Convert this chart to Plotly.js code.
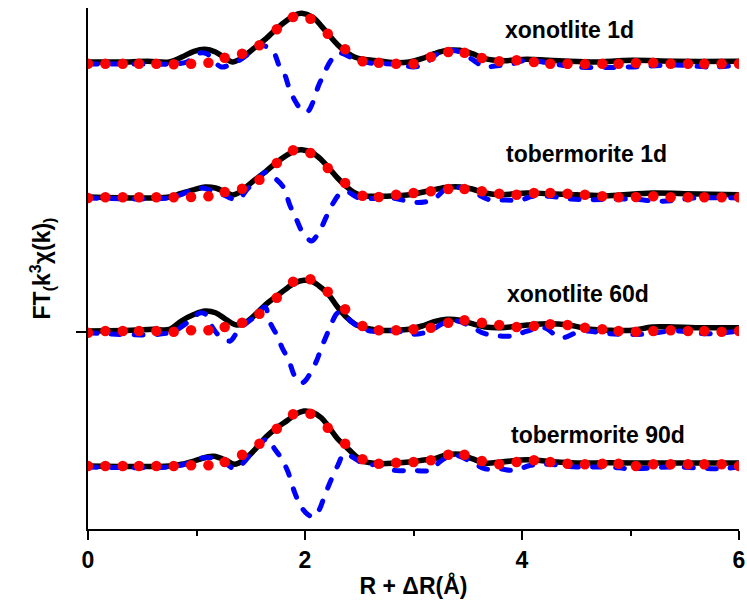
<!DOCTYPE html>
<html>
<head>
<meta charset="utf-8">
<script src="https://cdn.plot.ly/plotly-3.0.1.min.js"></script>
<style>
html,body{margin:0;padding:0;background:#fff;}
#chart{width:747px;height:606px;}
.scatterlayer .js-line{stroke-linecap:round !important;stroke-linejoin:round !important;}
</style>
</head>
<body>
<div id="chart"></div>
<script>
// ---- data (FT magnitude, arbitrary units) ----
var sampleNames = ["xonotlite 1d", "tobermorite 1d", "xonotlite 60d", "tobermorite 90d"];
var offsets = [270, 135, 1, -134];

// fit R grid (red dots)
var fitR = [0, 0.16, 0.32, 0.47, 0.63, 0.79, 0.95, 1.11, 1.26, 1.42, 1.58, 1.74, 1.89, 2.05, 2.21, 2.37, 2.53, 2.68, 2.84, 3.00,
            3.16, 3.32, 3.47, 3.63, 3.79, 3.95, 4.11, 4.26, 4.42, 4.58, 4.74, 4.89, 5.05, 5.21, 5.37, 5.53, 5.68, 5.84, 6.00];

// xonotlite 1d
var xon1R   = [0, 0.3, 0.55, 0.75, 0.865, 0.977, 1.078, 1.175, 1.272, 1.33, 1.408, 1.525, 1.641, 1.738, 1.835, 1.913, 1.971, 2.068, 2.145, 2.223, 2.301, 2.378, 2.456, 2.533, 2.689, 2.844, 2.96, 3.077, 3.193, 3.31, 3.426, 3.543, 3.659, 3.814, 4.047, 4.241, 4.629, 5.017, 5.405, 6.0];
var xon1Mag = [0, 0, 0.7, 0, 5, 10.7, 12.7, 10, 3.3, 0, 3.3, 13.3, 23.3, 33.3, 41.7, 47.3, 48.7, 45, 36.7, 26.7, 17.3, 10, 5, 2.7, 1, -0.7, 0, 3.3, 8.3, 11.7, 11.7, 8.3, 3.3, 1.3, 2.7, 1.7, 0, 1.7, 0.7, 0.7];
var xon1ImR = [0, 0.5, 0.8, 0.91, 0.97, 1.03, 1.1, 1.15, 1.23, 1.3, 1.4, 1.49, 1.58, 1.65, 1.71, 1.77, 1.81, 1.86, 1.92, 1.97, 2.02, 2.07, 2.12, 2.17, 2.23, 2.30, 2.36, 2.45, 2.6, 2.8, 2.9, 3.0, 3.1, 3.25, 3.4, 3.55, 3.65, 3.75, 3.9, 4.05, 4.25, 4.5, 5.0, 5.4, 5.75, 6.0];
var xon1Im  = [-2, -2, -2, 0, 5, 9, 8, 2, -5, -3, 2, 9, 17, 15, 10, -6, -12, -28, -41, -48, -50, -41, -25, -13, 0, 9, 8, 3, -1, -2, -3, -5, -2, 10, 11, 2, -5, -4, -2, 2, -1, -5, -5, -3, -5, -3];
var xon1Fit = [-1.7, -1.7, -1.7, -1.7, -1.7, -2.3, -1.7, -0.7, 4.3, 8.3, 16.7, 32.7, 45, 43.3, 28.3, 12.7, 0.7, -0.7, -1.7, -1.7, 5, 10, 9.3, 4, 0.7, 1.7, 0, -1.7, -1.7, -2, -1.7, -1.7, -1, -0.7, -1.7, -1.7, -1.7, -1.7, -1.7];

// tobermorite 1d
var tob1R   = [0, 0.75, 0.85, 0.98, 1.08, 1.175, 1.27, 1.33, 1.41, 1.52, 1.64, 1.74, 1.84, 1.91, 1.97, 2.07, 2.15, 2.22, 2.30, 2.38, 2.46, 2.53, 2.69, 2.84, 2.96, 3.08, 3.19, 3.31, 3.43, 3.54, 3.66, 3.81, 4.05, 4.24, 4.5, 4.8, 5.2, 5.5, 6.0];
var tob1Mag = [0, 0, 3.3, 7.3, 10, 9, 4.7, 2, 5.7, 15.7, 25.7, 34.7, 42.3, 46.3, 47.3, 44, 37.3, 29, 19, 10.7, 4, 1.3, 0.7, 1.3, 2.3, 4.7, 7.3, 9.7, 10, 8, 4, 2.3, 4, 3.3, 2.3, 1.3, 4, 3.3, 2.3];
var tob1ImR = [0, 0.75, 0.85, 0.95, 1.05, 1.15, 1.25, 1.38, 1.47, 1.56, 1.64, 1.72, 1.80, 1.86, 1.92, 1.97, 2.02, 2.06, 2.10, 2.14, 2.20, 2.26, 2.32, 2.38, 2.5, 2.8, 3.0, 3.1, 3.2, 3.3, 3.45, 3.55, 3.7, 3.85, 3.98, 4.1, 4.25, 4.45, 4.65, 5.0, 5.3, 5.6, 6.0];
var tob1Im  = [-1, -1, 2, 6.7, 9, 6, 2, -2.7, 8, 17, 25, 19, 10, -8, -22, -34, -41, -44, -40, -33, -19, -6, 3, 5.7, -1, -1, -5.3, -5, -1, 8, 9, 5, -2.7, -3, -3.3, 0.7, 0.7, -2, -2.7, -2, -4.3, -1, -1];
var tob1Fit = [-1, -0.3, -0.3, -0.3, -0.3, -0.3, 0, 0.7, 5, 8.3, 17.3, 34, 46.7, 44, 29, 14, 1.3, 0, 2.3, 4, 5.7, 8, 8, 5.7, 3.3, 2.3, 4, 4, 3.3, 2.3, 0.7, -0.3, 0, 0.7, -0.3, -0.3, -0.3, -0.3, -0.3];

// xonotlite 60d
var xon60R   = [0, 0.4, 0.6, 0.75, 0.86, 0.98, 1.08, 1.175, 1.27, 1.37, 1.45, 1.56, 1.64, 1.74, 1.84, 1.91, 1.99, 2.07, 2.15, 2.22, 2.30, 2.38, 2.46, 2.53, 2.69, 2.84, 2.96, 3.08, 3.19, 3.31, 3.43, 3.54, 3.66, 3.81, 4.05, 4.24, 4.43, 4.63, 4.82, 5.02, 5.2, 5.4, 5.6, 6.0];
var xon60Mag = [0, 0.7, 1.7, 1.7, 10, 16.7, 20, 18.3, 11.7, 6, 8.3, 18.3, 26.7, 35, 43.3, 48.3, 50.7, 49.3, 43.3, 36, 24, 14, 7, 3.5, 0.7, 0.7, 1.7, 5, 9.3, 11.7, 10.7, 7.3, 4, 3.3, 6, 7.3, 6, 1.7, 0.7, 0.7, 4, 4, 3.3, 3.3];
var xon60ImR = [0, 0.75, 0.91, 1.03, 1.08, 1.14, 1.2, 1.25, 1.31, 1.37, 1.46, 1.55, 1.63, 1.68, 1.74, 1.79, 1.85, 1.90, 1.96, 2.00, 2.05, 2.11, 2.15, 2.20, 2.25, 2.30, 2.35, 2.42, 2.5, 2.6, 2.85, 3.0, 3.15, 3.28, 3.4, 3.52, 3.66, 3.9, 4.05, 4.2, 4.36, 4.55, 4.8, 5.1, 5.4, 5.7, 6.0];
var xon60Im  = [-1.7, -1.7, 8, 18, 17, 5, -4, -8, -10, -2, 8, 15, 24, 8, -4, -17, -29, -44, -52, -50, -42, -29, -17, -4, 9, 18, 18, 10, 4, 0, 0, -3.3, 0, 8, 10, 5, -2.7, -5, 0, 3.3, -6.7, 0, -2.7, -3.3, 0, -2.7, 0];
var xon60Fit = [-1.7, 0, 0, 0, 0, -0.7, 0.7, 0.7, 4, 8.3, 17.3, 33.3, 49.3, 51.7, 39.3, 21.7, 5, 0.7, 0.7, 1.7, 3.3, 8.3, 10.7, 8.3, 6, 4, 5, 6.7, 6, 3.3, 1.7, 0, -0.7, 0, 0.7, 0, 0, -0.7, 0];

// tobermorite 90d
var tob90R   = [0, 0.75, 0.86, 0.98, 1.1, 1.16, 1.27, 1.35, 1.45, 1.56, 1.64, 1.74, 1.84, 1.91, 1.99, 2.07, 2.15, 2.22, 2.30, 2.38, 2.46, 2.53, 2.69, 2.84, 2.96, 3.08, 3.19, 3.31, 3.43, 3.54, 3.66, 3.81, 4.05, 4.24, 4.5, 4.8, 5.2, 5.6, 6.0];
var tob90Mag = [0, 0, 1.7, 5, 9, 9.7, 5.7, 1.7, 7.3, 19, 29, 38.3, 45.7, 51.7, 55, 53.7, 48.3, 39, 27.3, 19, 10.7, 5, 2.3, 3, 4, 5.7, 7.3, 11.3, 11.7, 7.3, 3, 4, 6.3, 4.7, 3, 3.3, 3, 3, 3];
var tob90ImR = [0, 0.75, 0.9, 1.05, 1.15, 1.25, 1.35, 1.42, 1.5, 1.6, 1.66, 1.72, 1.78, 1.84, 1.90, 1.96, 2.02, 2.08, 2.13, 2.18, 2.24, 2.30, 2.36, 2.42, 2.55, 2.7, 2.82, 2.98, 3.15, 3.26, 3.38, 3.5, 3.66, 3.8, 3.93, 4.08, 4.24, 4.5, 4.8, 5.0, 5.4, 5.8, 6.0];
var tob90Im  = [-1, -1, 2, 8, 8, 4, -2.7, 2, 12, 24, 27, 17, 8, -5, -25, -40, -48, -51, -44, -30, -14, 0, 12, 10, 2, 1, -4.3, -4.3, -4.3, 5.7, 10.7, 6, -2.7, -3, -4.3, 0.7, 1.7, -1, -1, -2.7, -1, -2.7, -1];
var tob90Fit = [0, 0, 0, 0, 0, 0, 0.7, 0.7, 4, 11.3, 22.3, 37.3, 51.7, 52.3, 38.3, 22.3, 6.7, 2.3, 3.3, 4, 5.7, 11.3, 11.3, 5, 1.7, 4, 5.7, 4, 2.3, 1.7, 2.3, 2.3, 0, 1.7, 1.7, 1.7, 1.7, 1.7, 0];

var xTickVals = [0, 2, 4, 6];
var xTickText = ["0", "2", "4", "6"];
var labelX = [4.44, 4.59, 4.52, 4.70];
var labelY = [302, 178, 38, -103];

// ---- build traces ----
var magR = [xon1R, tob1R, xon60R, tob90R];
var mags = [xon1Mag, tob1Mag, xon60Mag, tob90Mag];
var imR  = [xon1ImR, tob1ImR, xon60ImR, tob90ImR];
var ims  = [xon1Im, tob1Im, xon60Im, tob90Im];
var fits = [xon1Fit, tob1Fit, xon60Fit, tob90Fit];

function shift(arr, off){ return arr.map(function(v){ return v + off; }); }

var traces = [];
for (var i = 0; i < 4; i++) {
  traces.push({x: magR[i], y: shift(mags[i], offsets[i]), mode: 'lines', type: 'scatter',
    line: {color: '#000000', width: 5.5, shape: 'spline', smoothing: 1}, hoverinfo: 'skip', showlegend: false});
}
for (var i = 0; i < 4; i++) {
  traces.push({x: imR[i], y: shift(ims[i], offsets[i]), mode: 'lines', type: 'scatter',
    line: {color: '#0000ff', width: 5, shape: 'spline', smoothing: 1, dash: '9px,14px'}, hoverinfo: 'skip', showlegend: false});
}
for (var i = 0; i < 4; i++) {
  traces.push({x: fitR, y: shift(fits[i], offsets[i]), mode: 'markers', type: 'scatter',
    marker: {color: '#ff0000', size: 10.5, line: {width: 0}}, hoverinfo: 'skip', showlegend: false});
}

var font = {family: 'Liberation Sans, Arial, sans-serif', size: 23, color: '#000', weight: 'bold'};

var annotations = sampleNames.map(function(n, i){
  return {x: labelX[i], y: labelY[i], xref: 'x', yref: 'y', text: n, showarrow: false,
          xanchor: 'center', yanchor: 'middle', font: font};
});

var layout = {
  width: 747, height: 606,
  margin: {l: 88, r: 8, t: 8, b: 77},
  paper_bgcolor: '#fff', plot_bgcolor: '#fff',
  font: font,
  showlegend: false,
  xaxis: {
    range: [0, 6], showgrid: false, zeroline: false,
    showline: true, linecolor: '#000', linewidth: 2,
    tickmode: 'array', tickvals: xTickVals, ticktext: xTickText,
    ticks: 'outside', ticklen: 9, tickwidth: 2, tickcolor: '#000',
    minor: {dtick: 1, tick0: 0, ticks: 'outside', ticklen: 5, tickwidth: 2, tickcolor: '#000', showgrid: false},
    tickfont: font,
    title: {text: 'R + ΔR(Å)', font: font, standoff: 6}
  },
  yaxis: {
    range: [-197, 324], showgrid: false, zeroline: false,
    showline: true, linecolor: '#000', linewidth: 2,
    tickmode: 'array', tickvals: [0], ticktext: [''],
    ticks: 'outside', ticklen: 10, tickwidth: 1.5, tickcolor: '#000',
    title: {text: 'FT<sub>(</sub>k<sup>3</sup>χ(k)<sub>)</sub>', font: font, standoff: 14}
  },
  annotations: annotations
};

Plotly.newPlot('chart', traces, layout, {displayModeBar: false, staticPlot: true});
</script>
</body>
</html>
